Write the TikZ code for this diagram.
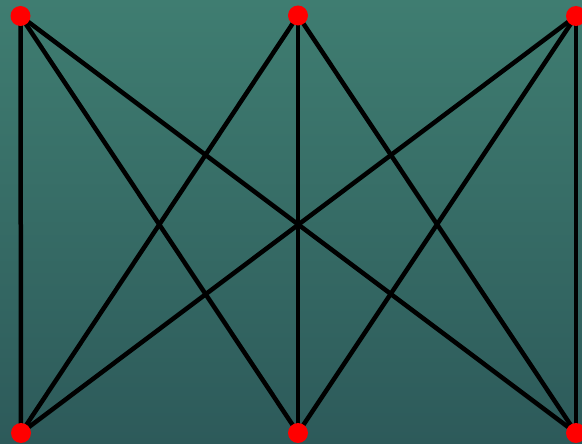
\documentclass[tikz,border=0pt]{standalone}
\usepackage{tikz}
\definecolor{bgtop}{HTML}{3F7D71}
\definecolor{bgbot}{HTML}{2D5A5A}
\tikzset{
  vert/.style={circle,fill=red,draw=none,minimum size=20pt,inner sep=0pt},
  edge/.style={black,line width=4.5pt}
}
\begin{document}
\begin{tikzpicture}[x=1pt,y=-1pt]
\shade[top color=bgtop,bottom color=bgbot] (0,0) rectangle (582,444);
\useasboundingbox (0,0) rectangle (582,444);
\coordinate (ct1) at (20.5,16);
\coordinate (ct2) at (298,15.5);
\coordinate (ct3) at (576,16);
\coordinate (cb1) at (21,433);
\coordinate (cb2) at (298,433);
\coordinate (cb3) at (576,433);
\foreach \t in {ct1,ct2,ct3}{
  \foreach \b in {cb1,cb2,cb3}{
    \draw[edge] (\t) -- (\b);
  }
}
\node[vert] (t1) at (ct1) {};
\node[vert] (t2) at (ct2) {};
\node[vert] (t3) at (ct3) {};
\node[vert] (b1) at (cb1) {};
\node[vert] (b2) at (cb2) {};
\node[vert] (b3) at (cb3) {};
\end{tikzpicture}
\end{document}
